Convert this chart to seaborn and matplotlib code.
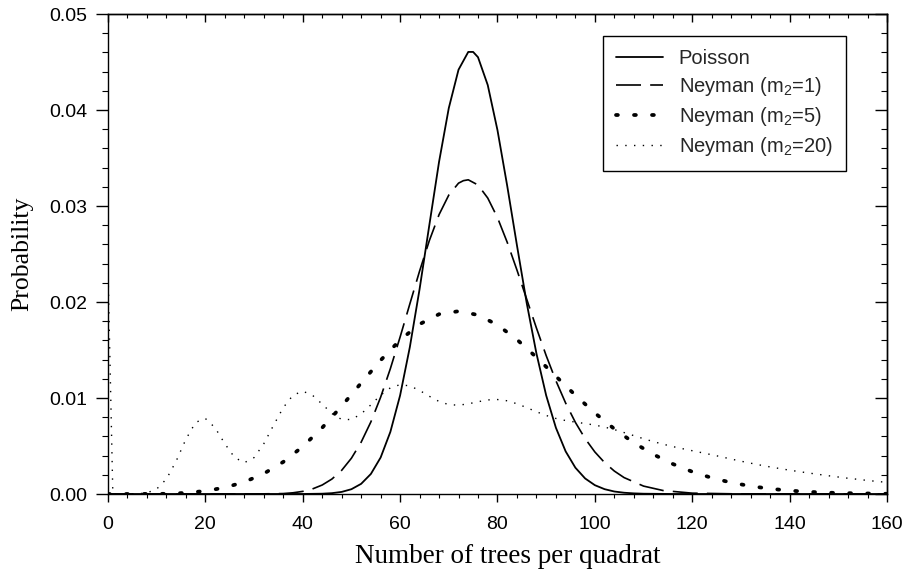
import matplotlib
matplotlib.use("Agg")
import matplotlib.pyplot as plt
import seaborn as sns
import pandas as pd
from matplotlib.ticker import MultipleLocator, FormatStrFormatter

# ---------------- data ----------------
labels = ["Poisson", "Neyman (m$_{\\mathregular{2}}$=1)",
          "Neyman (m$_{\\mathregular{2}}$=5)", "Neyman (m$_{\\mathregular{2}}$=20)"]

x_poisson = [0, 40, 44, 46, 48, 50, 52, 54, 56, 58, 60, 62, 64, 66, 68, 70, 72, 74, 75,
             76, 78, 80, 82, 84, 86, 88, 90, 92, 94, 96, 98, 100, 102, 104, 106, 108,
             110, 116, 160]
p_poisson = [0.0, 0.000003, 0.000032, 0.000088, 0.000218, 0.0005, 0.00106, 0.00209,
             0.0038, 0.00647, 0.01027, 0.0153, 0.02134, 0.028, 0.0346, 0.0402, 0.0442,
             0.04605, 0.04605, 0.0455, 0.0426, 0.0379, 0.0321, 0.0259, 0.0199, 0.01464,
             0.01027, 0.0069, 0.00444, 0.00274, 0.00162, 0.00092, 0.000503, 0.00026,
             0.000133, 0.000065, 0.00003, 0.000002, 0.0]

x_m1 = [0, 30, 36, 38, 40, 42, 44, 46, 48, 50, 52, 54, 56, 58, 60, 62, 64, 66, 68, 70,
        72, 73, 74, 76, 78, 80, 82, 84, 86, 88, 90, 92, 94, 96, 98, 100, 102, 104, 106,
        110, 114, 120, 130, 160]
p_m1 = [0.0, 0.000002, 0.000046, 0.000126, 0.000273, 0.000527, 0.000936, 0.00156,
        0.002467, 0.003727, 0.005398, 0.007513, 0.01008, 0.01306, 0.01635, 0.0198,
        0.02322, 0.02639, 0.0291, 0.03114, 0.03238, 0.03264, 0.03273, 0.03219, 0.03083,
        0.02879, 0.02622, 0.02333, 0.0203, 0.01729, 0.01442, 0.0118, 0.00947, 0.00746,
        0.00577, 0.00438, 0.00327, 0.00239, 0.00171, 0.000824, 0.000363, 0.000088,
        0.000005, 0.0]

x_m5 = [0, 4, 8, 12, 16, 20, 24, 28, 32, 36, 40, 44, 48, 52, 56, 60, 64, 68, 72, 76,
        80, 84, 88, 92, 96, 100, 104, 108, 112, 116, 120, 124, 128, 132, 136, 140,
        144, 150, 160]
p_m5 = [0.0, 0.0, 0.00001, 0.00002, 0.000115, 0.000315, 0.00067, 0.001249, 0.002119,
        0.00334, 0.00494, 0.006903, 0.00916, 0.01156, 0.01393, 0.01604, 0.01769,
        0.01873, 0.01904, 0.01865, 0.01761, 0.01609, 0.01424, 0.01226, 0.01029,
        0.00844, 0.00678, 0.00534, 0.00413, 0.00313, 0.00232, 0.00168, 0.00119,
        0.00082, 0.000546, 0.000353, 0.00022, 0.000102, 0.000023]

x_m20 = [0, 1, 2, 4, 6, 8, 10, 12, 14, 16, 18, 20, 22, 24, 26, 28, 30, 32, 34, 36, 38,
         40, 42, 44, 46, 48, 50, 52, 54, 56, 58, 60, 62, 64, 66, 68, 70, 72, 74, 76,
         78, 80, 82, 84, 86, 88, 90, 92, 94, 96, 98, 100, 102, 104, 106, 108, 110, 112,
         114, 116, 118, 120, 122, 124, 126, 128, 130, 132, 134, 136, 138, 140, 142,
         144, 146, 148, 150, 152, 154, 156, 158, 160]
p_m20 = [0.0235, 0.0, 0.0, 0.000001, 0.000016, 0.000115, 0.000513, 0.001556, 0.00342,
         0.0057, 0.00746, 0.00787, 0.0069, 0.00524, 0.00381, 0.00326, 0.00379, 0.00523,
         0.00715, 0.009, 0.01029, 0.01071, 0.01029, 0.00936, 0.00838, 0.00776, 0.00776,
         0.00834, 0.00929, 0.0103, 0.01106, 0.01139, 0.01126, 0.01079, 0.01018, 0.00964,
         0.00931, 0.00925, 0.00939, 0.00961, 0.0098, 0.00984, 0.00971, 0.0094, 0.009,
         0.00857, 0.00818, 0.00787, 0.00765, 0.00749, 0.00734, 0.00718, 0.00697,
         0.00671, 0.0064, 0.00608, 0.00576, 0.00546, 0.00519, 0.00494, 0.00472,
         0.00451, 0.0043, 0.00409, 0.00387, 0.00364, 0.00342, 0.00321, 0.00301,
         0.00282, 0.00265, 0.00248, 0.00233, 0.00218, 0.00204, 0.0019, 0.00177,
         0.00164, 0.00153, 0.00141, 0.00131, 0.00121]

x_ticks = [0, 20, 40, 60, 80, 100, 120, 140, 160]
y_ticks = [0.00, 0.01, 0.02, 0.03, 0.04, 0.05]

# ---------------- style ----------------
sns.set_theme(style="ticks")
plt.rcParams["font.family"] = ["Liberation Sans", "DejaVu Sans"]
plt.rcParams["mathtext.fontset"] = "custom"
plt.rcParams["mathtext.rm"] = "Liberation Sans"
plt.rcParams["mathtext.it"] = "Liberation Sans:italic"
plt.rcParams["axes.edgecolor"] = "black"
plt.rcParams["axes.linewidth"] = 1.0

fig, ax = plt.subplots(figsize=(9.05, 5.79), dpi=100)
fig.subplots_adjust(left=0.1193, right=0.9801, top=0.9758, bottom=0.1468)

styles = [
    dict(linestyle="-", linewidth=1.3),
    dict(linestyle=(0, (15, 5.5)), linewidth=1.2),
    dict(linestyle=(0, (0.5, 4.3)), linewidth=2.7, dash_capstyle="round"),
    dict(linestyle=(0, (1, 5.3)), linewidth=1.0),
]
series = [(x_poisson, p_poisson), (x_m1, p_m1), (x_m5, p_m5), (x_m20, p_m20)]

for (xs, ps), lab, st in zip(series, labels, styles):
    df = pd.DataFrame({"x": xs, "p": ps})
    sns.lineplot(data=df, x="x", y="p", ax=ax, color="black", label=lab,
                 estimator=None, sort=False, **st)

ax.set_xlim(0, 160)
ax.set_ylim(0, 0.05)
ax.set_xticks(x_ticks)
ax.set_yticks(y_ticks)
ax.xaxis.set_minor_locator(MultipleLocator(4))
ax.yaxis.set_minor_locator(MultipleLocator(0.002))
ax.yaxis.set_major_formatter(FormatStrFormatter("%.2f"))
ax.xaxis.set_major_formatter(FormatStrFormatter("%d"))

ax.tick_params(axis="y", which="major", direction="out", length=8.5, width=1,
               pad=6.5, labelsize=14, colors="black")
ax.tick_params(axis="y", which="minor", direction="out", length=4, width=0.8, colors="black")
ax.tick_params(axis="x", which="major", direction="out", length=5.5, width=1,
               pad=10, labelsize=14, colors="black")
ax.tick_params(axis="x", which="minor", direction="out", length=3, width=0.8, colors="black")

secx = ax.secondary_xaxis("top")
secx.set_xticks(x_ticks)
secx.xaxis.set_minor_locator(MultipleLocator(4))
secx.tick_params(which="major", direction="in", length=5.8, width=1, labeltop=False, colors="black")
secx.tick_params(which="minor", direction="in", length=3, width=0.8, colors="black")

secy = ax.secondary_yaxis("right")
secy.set_yticks(y_ticks)
secy.yaxis.set_minor_locator(MultipleLocator(0.002))
secy.tick_params(which="major", direction="in", length=8.5, width=1, labelright=False, colors="black")
secy.tick_params(which="minor", direction="in", length=4.5, width=0.8, colors="black")

ax.set_xlabel("Number of trees per quadrat", fontfamily="Liberation Serif",
              fontsize=19.5, color="black", labelpad=8)
ax.xaxis.set_label_coords(0.513, -0.105)
ax.set_ylabel("Probability", fontfamily="Liberation Serif", fontsize=18.5,
              color="black", labelpad=11)

leg = ax.legend(loc="upper right", bbox_to_anchor=(0.947, 0.954), frameon=True,
                fancybox=False, edgecolor="black", framealpha=1, fontsize=14.5,
                handlelength=2.35, handletextpad=0.75, labelspacing=0.35,
                borderpad=0.65, borderaxespad=0)
leg.get_frame().set_linewidth(1.0)

fig.savefig("out.png", dpi=100)
